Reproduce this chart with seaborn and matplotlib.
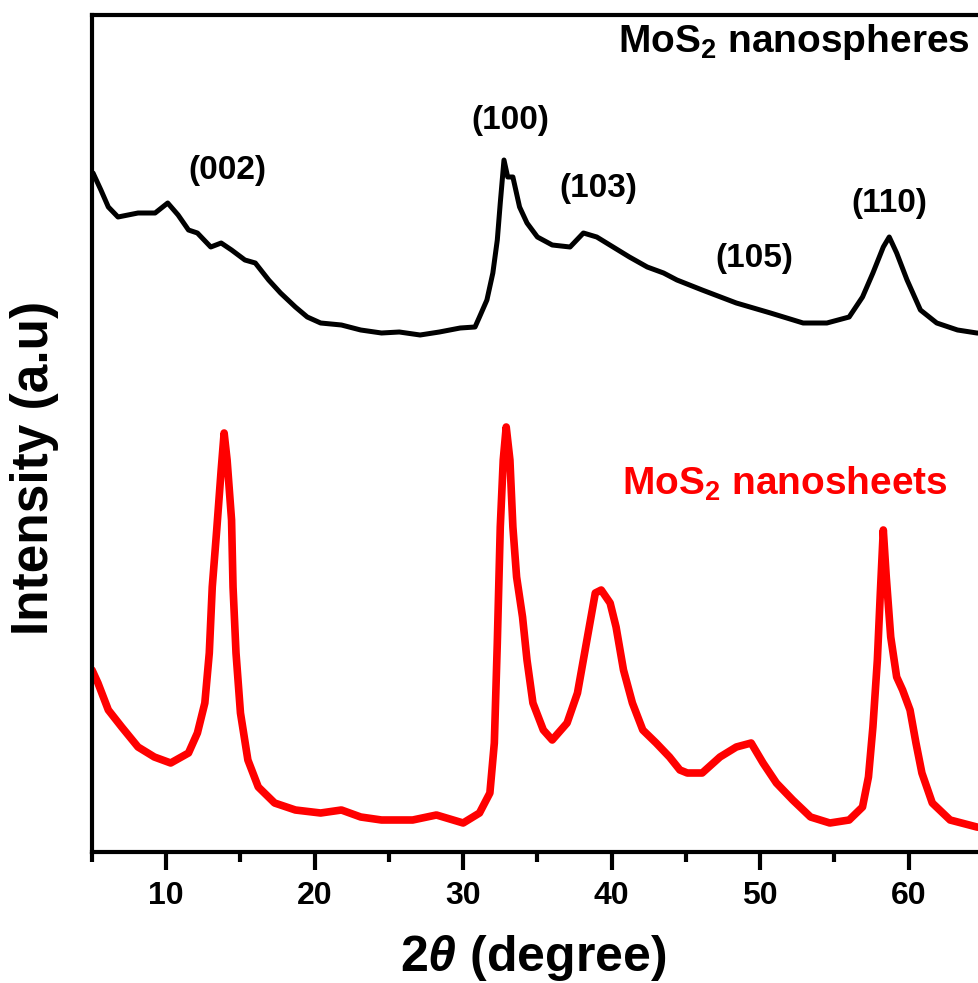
import numpy as np
import pandas as pd
import matplotlib
matplotlib.use("Agg")
import matplotlib.pyplot as plt
import seaborn as sns

# ---- data (2theta in degrees, intensity in arbitrary units) ----
nanospheres_2theta = [5.07, 5.6, 6.1, 6.75, 8.1, 9.25, 10.1, 10.8, 11.5, 12.1, 13.0, 13.7, 14.4,
                      15.3, 16.0, 16.9, 17.7, 18.7, 19.5, 20.4, 21.8, 23.1, 24.5, 25.7, 27.1,
                      28.4, 29.8, 30.8, 31.1, 31.6, 32.0, 32.3, 32.5, 32.75, 33.0, 33.35, 33.8,
                      34.3, 35.0, 36.0, 37.2, 38.1, 39.0, 40.1, 41.2, 42.4, 43.5, 44.4, 46.1,
                      48.4, 50.7, 52.9, 54.5, 56.0, 56.9, 57.6, 58.3, 58.7, 59.2, 59.9, 60.8,
                      61.9, 63.3, 64.6, 66.0]
nanospheres_int = [679, 662, 645, 635, 639, 639, 649, 637, 622, 619, 605, 609, 602,
                   592, 589, 572, 559, 545, 535, 529, 527, 522, 519, 520, 517,
                   520, 524, 525, 535, 552, 579, 612, 649, 692, 675, 675, 645,
                   629, 615, 607, 605, 619, 615, 605, 595, 585, 579, 572, 562,
                   549, 539, 529, 529, 535, 555, 579, 605, 615, 599, 572, 542,
                   529, 522, 519, 518]

nanosheets_2theta = [5.0, 5.4, 6.1, 7.0, 8.1, 9.2, 10.3, 11.5, 12.1, 12.6, 12.9, 13.1, 13.4,
                     13.7, 13.9, 14.1, 14.4, 14.5, 14.7, 15.0, 15.5, 16.2, 17.3, 18.7, 20.4,
                     21.8, 23.1, 24.5, 26.6, 28.2, 30.0, 31.1, 31.8, 32.1, 32.3, 32.5, 32.7,
                     32.9, 33.15, 33.35, 33.6, 34.0, 34.3, 34.7, 35.4, 36.0, 37.0, 37.7, 38.3,
                     38.9, 39.3, 39.9, 40.3, 40.8, 41.4, 42.1, 43.0, 43.9, 44.6, 45.1, 46.1,
                     47.3, 48.4, 49.4, 50.2, 51.1, 52.2, 53.4, 54.7, 56.0, 56.9, 57.3, 57.6,
                     57.9, 58.1, 58.3, 58.5, 58.8, 59.2, 59.6, 60.1, 60.5, 60.9, 61.6, 62.8,
                     64.6, 66.0]
nanosheets_int = [182, 169, 142, 125, 105, 95, 89, 99, 119, 149, 199, 265, 322,
                  382, 419, 392, 332, 265, 199, 139, 92, 65, 49, 42, 39,
                  42, 35, 32, 32, 37, 29, 39, 59, 109, 209, 325, 392,
                  425, 392, 325, 275, 235, 192, 149, 122, 112, 129, 159, 209,
                  259, 262, 249, 225, 182, 149, 122, 109, 95, 82, 79, 79,
                  95, 105, 109, 89, 69, 52, 35, 29, 32, 45, 75, 125,
                  192, 259, 322, 275, 215, 175, 162, 142, 109, 79, 49, 32,
                  25, 22]

peak_labels = ["(002)", "(100)", "(103)", "(105)", "(110)"]
peak_label_x = [14.1, 33.2, 39.1, 49.6, 58.7]
peak_label_y = [682, 732, 664, 594, 649]

x_ticks = [10, 20, 30, 40, 50, 60]

sns.set_theme(style="ticks")
plt.rcParams["font.family"] = ["Liberation Sans", "DejaVu Sans"]
plt.rcParams["font.weight"] = "bold"
plt.rcParams["text.color"] = "black"
plt.rcParams["axes.labelcolor"] = "black"
plt.rcParams["xtick.color"] = "black"
plt.rcParams["ytick.color"] = "black"
plt.rcParams["mathtext.fontset"] = "custom"
plt.rcParams["mathtext.rm"] = "Liberation Sans:bold"
plt.rcParams["mathtext.bf"] = "Liberation Sans:bold"
plt.rcParams["mathtext.it"] = "Liberation Sans:italic"

fig = plt.figure(figsize=(9.79, 9.83), dpi=100)
ax = fig.add_axes([92 / 979, 131 / 983, 965 / 979, 837 / 983])

df_s = pd.DataFrame({"x": nanospheres_2theta, "y": nanospheres_int})
df_h = pd.DataFrame({"x": nanosheets_2theta, "y": nanosheets_int})
sns.lineplot(data=df_s, x="x", y="y", color="black", linewidth=3.6, ax=ax, sort=False)
sns.lineplot(data=df_h, x="x", y="y", color="#ff0000", linewidth=5.5, ax=ax, sort=False)

ax.set_xlim(5, 70)
ax.set_ylim(0, 837)
ax.set_xticks(x_ticks)
ax.set_xticks(np.arange(5, 66, 5), minor=True)
ax.set_yticks([])
ax.tick_params(axis="x", which="major", direction="out", length=13, width=3,
               labelsize=23, pad=8, colors="black")
ax.tick_params(axis="x", which="minor", direction="out", length=7.5, width=3,
               colors="black")
for lab in ax.get_xticklabels():
    lab.set_fontweight("bold")
    lab.set_color("black")
for sp in ax.spines.values():
    sp.set_linewidth(3)
    sp.set_color("black")

ax.set_xlabel("")
ax.set_ylabel("")
fig.text(533 / 979, 1 - 958 / 983, r"2$\theta$ (degree)", ha="center", va="center",
         fontsize=36, fontweight="bold", color="black")
fig.text(35 / 979, 1 - 468 / 983, "Intensity (a.u)", rotation=90, ha="center",
         va="center", fontsize=37, fontweight="bold", color="black")

for t, xx, yy in zip(peak_labels, peak_label_x, peak_label_y):
    ax.text(xx, yy, t, ha="center", va="center", fontsize=24, fontweight="bold",
            color="black")

ax.text(40.4, 800, r"MoS$_2$ nanospheres", ha="left", va="baseline", fontsize=28,
        fontweight="bold", color="black")
ax.text(40.7, 357, r"MoS$_2$ nanosheets", ha="left", va="baseline", fontsize=28,
        fontweight="bold", color="#ff0000")

fig.savefig("out.png", dpi=100)
